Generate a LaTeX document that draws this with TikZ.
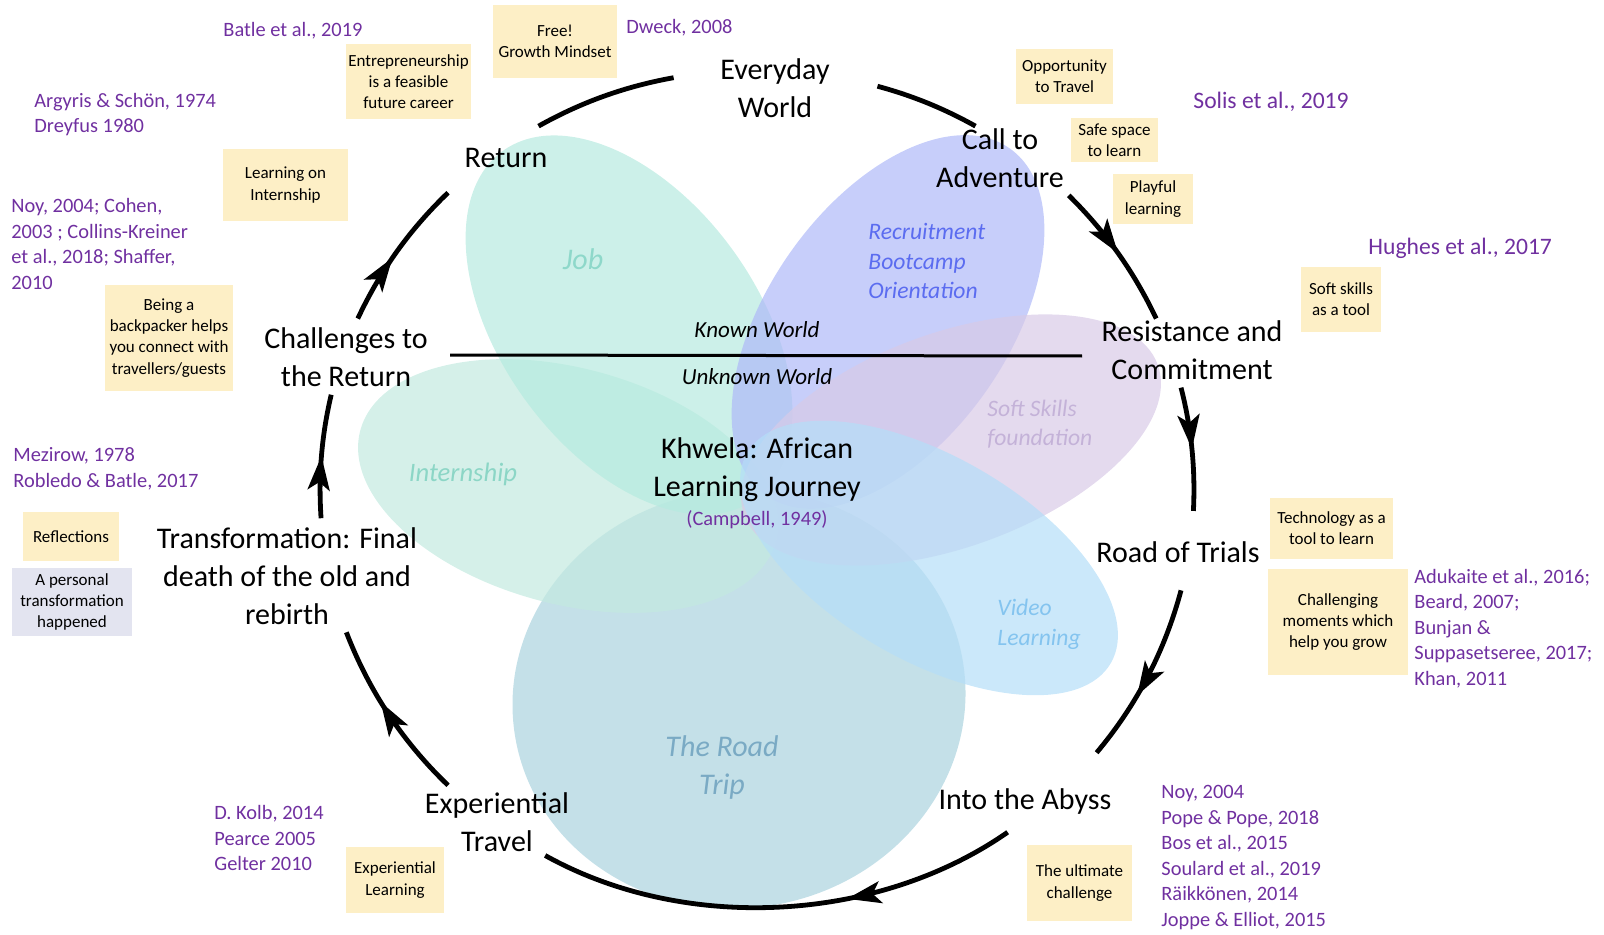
\documentclass[tikz,border=0pt]{standalone}
\usepackage{fontspec}
\setmainfont{Carlito}
\usetikzlibrary{calc, positioning, arrows.meta, decorations.markings}

\definecolor{noteyel}{HTML}{FDEFC6}
\definecolor{notelav}{HTML}{E3E4F0}
\definecolor{citepurple}{HTML}{7030A0}
\definecolor{jobfill}{HTML}{B6EADF}
\definecolor{internfill}{HTML}{C3EAE0}
\definecolor{recfill}{HTML}{AFB9F8}
\definecolor{softfill}{HTML}{D8CAE7}
\definecolor{vidfill}{HTML}{B5DEF8}
\definecolor{tripfill}{HTML}{ABD3DE}
\definecolor{jobtxt}{HTML}{8ED8CA}
\definecolor{rectxt}{HTML}{5B6CF0}
\definecolor{softtxt}{HTML}{C4B2D8}
\definecolor{vidtxt}{HTML}{84C4EF}
\definecolor{triptxt}{HTML}{7AAAC4}
\definecolor{interntxt}{HTML}{8CD6C6}

\begin{document}
\begin{tikzpicture}[x=0.5pt, y=0.5pt,
  stage/.style={align=center, inner sep=0pt, font=\fontsize{15}{19}\selectfont},
  note/.style={fill=noteyel, align=center, inner sep=0pt, font=\fontsize{8.5}{10.6}\selectfont},
  src/.style={text=citepurple, anchor=west, align=left, inner sep=0pt, font=\fontsize{10.2}{12.8}\selectfont},
  tag/.style={anchor=west, align=left, inner sep=0pt, font=\fontsize{11.8}{14.8}\selectfont\itshape},
  bigtag/.style={align=center, inner sep=0pt, font=\fontsize{15}{19}\selectfont\itshape},
  petal/.style={fill opacity=0.7},
  ring/.style={line width=2.4pt, looseness=0.88},
  flow/.style={ring, postaction={decorate}, decoration={markings, mark=at position #1 with {\arrow{Stealth[length=17pt, width=11pt, inset=4pt]}}}},
  flow/.default=0.5]
\useasboundingbox (0,0) rectangle (1604,-935);

\fill[tripfill, petal, rotate around={10:(739,-699)}] (739,-699) ellipse [x radius=113.5pt, y radius=104.5pt];
\fill[internfill, petal, rotate around={-15:(568,-486)}] (568,-486) ellipse [x radius=107.5pt, y radius=59pt];
\fill[jobfill, petal, rotate around={-54:(629,-325)}] (629,-325) ellipse [x radius=107.5pt, y radius=64pt];
\fill[recfill, petal, rotate around={55:(888,-322)}] (888,-322) ellipse [x radius=106pt, y radius=60pt];
\fill[softfill, petal, rotate around={20:(951,-440)}] (951,-440) ellipse [x radius=110pt, y radius=53.5pt];
\fill[vidfill, petal, rotate around={-30:(929,-558)}] (929,-558) ellipse [x radius=105pt, y radius=51pt];

\node[bigtag, text=jobtxt] (job) at (583,-259) {Job};
\node[tag, text=rectxt] (recruit) at (868,-261) {Recruitment\\Bootcamp\\Orientation};
\node[tag, text=softtxt] (soft) at (987,-424) {Soft Skills\\foundation};
\node[tag, text=vidtxt] (video) at (997,-624.5) {Video\\Learning};
\node[bigtag, text=triptxt] (trip) at (722,-767.5) {The Road\\Trip};
\node[inner sep=0pt, text=interntxt, font=\fontsize{13.3}{16}\selectfont\itshape] (intern) at (463,-474) {Internship};

\node[inner sep=0pt, font=\fontsize{11.5}{14}\selectfont\itshape] (known) at (757,-330) {Known World};
\node[inner sep=0pt, font=\fontsize{11.5}{14}\selectfont\itshape] (unknown) at (757,-377) {Unknown World};
\coordinate (wl) at (450,-355);
\coordinate (wr) at (1082,-356);
\draw[line width=1.5pt] (wl) -- (wr);

\node[stage] (khwela) at (757,-469.5) {Khwela: African\\Learning Journey};
\node[src, anchor=center, align=center] (campbell) at (757,-520) {(Campbell, 1949)};

\node[stage] (every) at (775,-88) {Everyday\\World};
\node[stage] (call) at (1000,-158) {Call to\\Adventure};
\node[stage] (resist) at (1192,-350) {Resistance and\\Commitment};
\node[stage] (road) at (1178,-552) {Road of Trials};
\node[stage] (abyss) at (1025,-801) {Into the Abyss};
\node[stage] (exper) at (497,-822) {Experiential\\Travel};
\node[stage] (transf) at (287,-576) {Transformation: Final\\death of the old and\\rebirth};
\node[stage] (chall) at (346,-357) {Challenges to\\the Return};
\node[stage] (ret) at (506,-158) {Return};

\coordinate (hub) at (757,-489);
\coordinate (r1) at ($(hub)+(120:218.5pt and 209.5pt)$);
\coordinate (e0) at ($(hub)+(101:218.5pt and 209.5pt)$);
\coordinate (e1) at ($(hub)+(74:218.5pt and 209.5pt)$);
\coordinate (c0) at ($(hub)+(60:218.5pt and 209.5pt)$);
\coordinate (c1) at ($(hub)+(44.5:218.5pt and 209.5pt)$);
\coordinate (s0) at ($(hub)+(24:218.5pt and 209.5pt)$);
\coordinate (s1) at ($(hub)+(14:218.5pt and 209.5pt)$);
\coordinate (t0) at ($(hub)+(-3:218.5pt and 209.5pt)$);
\coordinate (t1) at ($(hub)+(-14:218.5pt and 209.5pt)$);
\coordinate (a0) at ($(hub)+(-39:218.5pt and 209.5pt)$);
\coordinate (a1) at ($(hub)+(-55:218.5pt and 209.5pt)$);
\coordinate (x0) at ($(hub)+(-119:218.5pt and 209.5pt)$);
\coordinate (x1) at ($(hub)+(-135:218.5pt and 209.5pt)$);
\coordinate (f0) at ($(hub)+(-160:218.5pt and 209.5pt)$);
\coordinate (f1) at ($(hub)+(-176:218.5pt and 209.5pt)$);
\coordinate (h0) at ($(hub)+(167:218.5pt and 209.5pt)$);
\coordinate (h1) at ($(hub)+(156:218.5pt and 209.5pt)$);
\coordinate (r0) at ($(hub)+(135:218.5pt and 209.5pt)$);

\draw[ring] (r1) to[bend left=9.5] (e0);
\draw[ring] (e1) to[bend left=7] (c0);
\draw[flow] (c1) to[bend left=10] (s0);
\draw[flow] (s1) to[bend left=8.5] (t0);
\draw[flow=0.62] (t1) to[bend left=12.5] (a0);
\draw[flow=0.36] (a1) to[bend left=32] (x0);
\draw[flow=0.58] (x1) to[bend left=12.5] (f0);
\draw[flow] (f1) to[bend left=8.5] (h0);
\draw[flow=0.45] (h1) to[bend left=10.5] (r0);

\node[note, minimum width=62pt, minimum height=36.5pt] (free) at (555,-41.5) {Free!\\Growth Mindset};
\node[note, minimum width=62.5pt, minimum height=37.5pt] (entre) at (408.5,-81.5) {Entrepreneurship\\is a feasible\\future career};
\node[note, minimum width=62.5pt, minimum height=36pt] (onintern) at (285.5,-185) {Learning on\\Internship};
\node[note, minimum width=64pt, minimum height=53pt] (backpack) at (169,-338) {Being a\\backpacker helps\\you connect with\\travellers/guests};
\node[note, minimum width=48pt, minimum height=24.5pt] (reflect) at (71,-536.5) {Reflections};
\node[note, fill=notelav, minimum width=60pt, minimum height=34pt] (personal) at (72,-602) {A personal\\transformation\\happened};
\node[note, minimum width=49pt, minimum height=33pt] (explearn) at (395,-880) {Experiential\\Learning};
\node[note, minimum width=52.5pt, minimum height=38pt] (ultimate) at (1079.5,-883) {The ultimate\\challenge};
\node[note, minimum width=70pt, minimum height=53pt] (grow) at (1338,-622) {Challenging\\moments which\\help you grow};
\node[note, minimum width=61.5pt, minimum height=30.5pt] (tech) at (1331.5,-528.5) {Technology as a\\tool to learn};
\node[note, minimum width=40pt, minimum height=32.5pt] (softtool) at (1341,-299.5) {Soft skills\\as a tool};
\node[note, minimum width=40pt, minimum height=25pt] (playful) at (1153,-199) {Playful\\learning};
\node[note, minimum width=43.5pt, minimum height=22pt] (safe) at (1114.5,-140) {Safe space\\to learn};
\node[note, minimum width=48.5pt, minimum height=27.5pt] (travel) at (1064.5,-76.5) {Opportunity\\to Travel};

\node[src] (batle) at (223,-31) {Batle et al., 2019};
\node[src] (dweck) at (626,-28) {Dweck, 2008};
\node[src] (argyris) at (34,-114.5) {Argyris \& Schön, 1974\\Dreyfus 1980};
\node[src] (noy) at (11,-244) {Noy, 2004; Cohen,\\2003 ; Collins-Kreiner\\et al., 2018; Shaffer,\\2010};
\node[src] (mezirow) at (13,-468.5) {Mezirow, 1978\\Robledo \& Batle, 2017};
\node[src, font=\fontsize{11.8}{14}\selectfont] (solis) at (1193,-102) {Solis et al., 2019};
\node[src, font=\fontsize{11.8}{14}\selectfont] (hughes) at (1368,-248) {Hughes et al., 2017};
\node[src] (adukaite) at (1414,-628.5) {Adukaite et al., 2016;\\Beard, 2007;\\Bunjan \&\\Suppasetseree, 2017;\\Khan, 2011};
\node[src] (noyb) at (1161,-857.5) {Noy, 2004\\Pope \& Pope, 2018\\Bos et al., 2015\\Soulard et al., 2019\\Räikkönen, 2014\\Joppe \& Elliot, 2015};
\node[src] (kolb) at (214,-838) {D. Kolb, 2014\\Pearce 2005\\Gelter 2010};
\end{tikzpicture}
\end{document}
